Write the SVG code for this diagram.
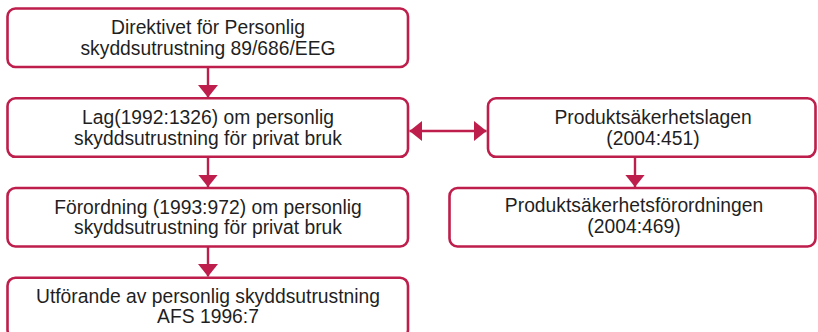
<svg xmlns="http://www.w3.org/2000/svg" width="818" height="332" viewBox="0 0 818 332">
  <style>
    .box { fill: #ffffff; stroke: #BE1E4B; stroke-width: 2.6; }
    .lbl { font-family: "Liberation Sans", Arial, sans-serif; font-size: 19.3px; fill: #1f1f1f; text-anchor: middle; }
    .conn { stroke: #BE1E4B; stroke-width: 2.4; fill: none; }
  </style>
  <defs>
    <marker id="head" markerUnits="userSpaceOnUse" markerWidth="13" markerHeight="20" refX="12.5" refY="10" orient="auto-start-reverse" viewBox="0 0 13 20">
      <path d="M0,0 L12.5,10 L0,20 Z" fill="#BE1E4B"/>
    </marker>
  </defs>
  <rect width="818" height="332" fill="#ffffff"/>

  <g id="connectors">
    <line class="conn" x1="208" y1="67" x2="208" y2="97.5" marker-end="url(#head)"/>
    <line class="conn" x1="208" y1="157" x2="208" y2="187" marker-end="url(#head)"/>
    <line class="conn" x1="208" y1="246.5" x2="208" y2="276.5" marker-end="url(#head)"/>
    <line class="conn" x1="409.5" y1="131" x2="486.5" y2="131" marker-start="url(#head)" marker-end="url(#head)"/>
    <line class="conn" x1="635" y1="157" x2="635" y2="187" marker-end="url(#head)"/>
  </g>

  <g id="node-direktivet">
    <rect class="box" x="7.5" y="8.5" width="400.5" height="58.5" rx="8"/>
    <text class="lbl" x="208" y="34.3">Direktivet för Personlig</text>
    <text class="lbl" x="208" y="55">skyddsutrustning 89/686/EEG</text>
  </g>

  <g id="node-lag">
    <rect class="box" x="7.5" y="98.3" width="400.5" height="58.5" rx="8"/>
    <text class="lbl" x="208" y="124">Lag(1992:1326) om personlig</text>
    <text class="lbl" x="208" y="145">skyddsutrustning för privat bruk</text>
  </g>

  <g id="node-forordning">
    <rect class="box" x="7.5" y="188" width="400.5" height="58.5" rx="8"/>
    <text class="lbl" x="208" y="213.5">Förordning (1993:972) om personlig</text>
    <text class="lbl" x="208" y="234.3">skyddsutrustning för privat bruk</text>
  </g>

  <g id="node-afs">
    <rect class="box" x="7.5" y="277.7" width="400.5" height="60" rx="8"/>
    <text class="lbl" x="208" y="302.5">Utförande av personlig skyddsutrustning</text>
    <text class="lbl" x="208" y="323.3">AFS 1996:7</text>
  </g>

  <g id="node-produktsakerhetslagen">
    <rect class="box" x="488" y="98.3" width="327.5" height="58.5" rx="8"/>
    <text class="lbl" x="653" y="123.5">Produktsäkerhetslagen</text>
    <text class="lbl" x="653" y="144.5">(2004:451)</text>
  </g>

  <g id="node-produktsakerhetsforordningen">
    <rect class="box" x="449.5" y="188" width="366" height="58.5" rx="8"/>
    <text class="lbl" x="634" y="212">Produktsäkerhetsförordningen</text>
    <text class="lbl" x="634" y="233.3">(2004:469)</text>
  </g>
</svg>
